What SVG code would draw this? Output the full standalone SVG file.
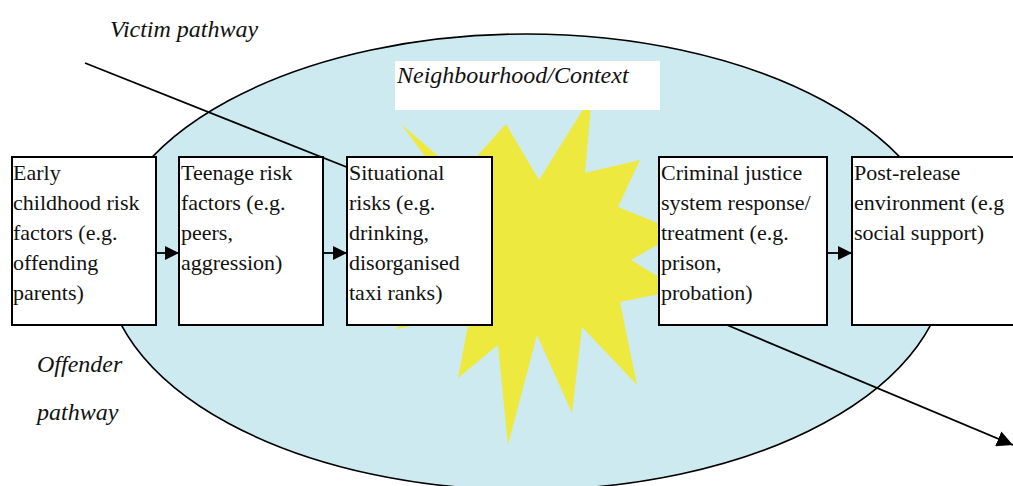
<svg xmlns="http://www.w3.org/2000/svg" width="1013" height="486" viewBox="0 0 1013 486">
<style>
.box{fill:#fff;stroke:#000;stroke-width:2}
.t{font-family:"Liberation Serif","Times New Roman",serif;font-size:22px;fill:#111}
.it{font-family:"Liberation Serif","Times New Roman",serif;font-size:24px;font-style:italic;fill:#111}
.ln{stroke:#000;stroke-width:1.8;fill:none}
</style>
<defs>
<marker id="ah" markerWidth="14" markerHeight="14" refX="14" refY="7" orient="auto" markerUnits="userSpaceOnUse">
<path d="M0,0 L14,7 L0,14 Z" fill="#000"/>
</marker>
<marker id="ah2" markerWidth="16" markerHeight="16" refX="16" refY="8" orient="auto" markerUnits="userSpaceOnUse">
<path d="M0,0 L16,8 L0,16 Z" fill="#000"/>
</marker>
</defs>
<rect width="1013" height="486" fill="#fff"/>
<g id="context">
<ellipse cx="526" cy="262" rx="421" ry="228" fill="#CDEAF0" stroke="#000" stroke-width="1.6"/>
<polygon fill="#EDE93E" points="401,124 460,175 506,124 539,180 592,95 585,173 640,160 618,207 680,232 631,260 680,290 620,302 637,385 582,327 572,413 537,335 508,445 498,345 458,378 470,315 396,329 440,270 360,230 450,190"/>
<rect x="395" y="61" width="265" height="49" fill="#fff"/>
<text class="it" x="397" y="83">Neighbourhood/Context</text>
</g>
<g id="labels">
<text class="it" x="110" y="37">Victim pathway</text>
<text class="it" x="37" y="372">Offender</text>
<text class="it" x="37" y="420">pathway</text>
</g>
<g id="connectors">
<line class="ln" x1="85" y1="63" x2="349" y2="168"/>
<line class="ln" x1="727" y1="325" x2="1013" y2="445" marker-end="url(#ah2)"/>
</g>
<g id="box1">
<rect class="box" x="12" y="157" width="144" height="168"/>
<text class="t" x="13"><tspan x="13" y="180">Early</tspan><tspan x="13" y="210">childhood risk</tspan><tspan x="13" y="240">factors (e.g.</tspan><tspan x="13" y="270">offending</tspan><tspan x="13" y="300">parents)</tspan></text>
</g>
<g id="box2">
<rect class="box" x="179" y="157" width="144" height="168"/>
<text class="t"><tspan x="181" y="180">Teenage risk</tspan><tspan x="181" y="210">factors (e.g.</tspan><tspan x="181" y="240">peers,</tspan><tspan x="181" y="270">aggression)</tspan></text>
</g>
<g id="box3">
<rect class="box" x="347" y="157" width="145" height="168"/>
<text class="t"><tspan x="349" y="180">Situational</tspan><tspan x="349" y="210">risks (e.g.</tspan><tspan x="349" y="240">drinking,</tspan><tspan x="349" y="270">disorganised</tspan><tspan x="349" y="300">taxi ranks)</tspan></text>
</g>
<g id="box4">
<rect class="box" x="659" y="157" width="168" height="168"/>
<text class="t"><tspan x="661" y="180">Criminal justice</tspan><tspan x="661" y="210">system response/</tspan><tspan x="661" y="240">treatment (e.g.</tspan><tspan x="661" y="270">prison,</tspan><tspan x="661" y="300">probation)</tspan></text>
</g>
<g id="box5">
<rect class="box" x="852" y="157" width="180" height="168"/>
<text class="t"><tspan x="854" y="180">Post-release</tspan><tspan x="854" y="210">environment (e.g</tspan><tspan x="854" y="240">social support)</tspan></text>
</g>
<g id="flow-connectors">
<line class="ln" x1="156" y1="253" x2="179" y2="253" marker-end="url(#ah)"/>
<line class="ln" x1="323" y1="253" x2="347" y2="253" marker-end="url(#ah)"/>
<line class="ln" x1="827" y1="253" x2="852" y2="253" marker-end="url(#ah)"/>
</g>
</svg>
